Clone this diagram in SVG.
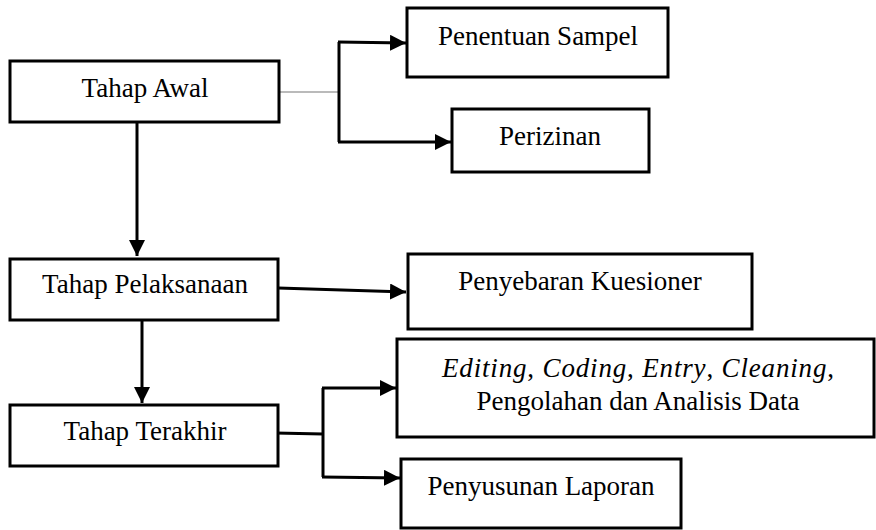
<svg xmlns="http://www.w3.org/2000/svg" width="876" height="530" viewBox="0 0 876 530">
<style>
.box{fill:#fff;stroke:#000;stroke-width:3}
.t{font-family:"Liberation Serif","Times New Roman",serif;font-size:27px;fill:#000;text-anchor:middle}
.c{fill:none;stroke:#000;stroke-width:3}
.thin{fill:none;stroke:#777;stroke-width:1.2}
</style>
<defs>
<marker id="ah" markerUnits="userSpaceOnUse" markerWidth="18" markerHeight="16" refX="16" refY="8" orient="auto">
<path d="M0,0 L16,8 L0,16 Z" fill="#000"/>
</marker>
</defs>
<rect width="876" height="530" fill="#fff"/>
<g id="connectors">
<path class="c" d="M137,122 V256" marker-end="url(#ah)"/>
<path class="thin" d="M279,92 H339"/>
<path class="c" d="M339,42 V142"/>
<path class="c" d="M338,42 L406,43" marker-end="url(#ah)"/>
<path class="c" d="M338,142 L451,142" marker-end="url(#ah)"/>
<path class="c" d="M278,288 L406,292" marker-end="url(#ah)"/>
<path class="c" d="M142,320 V403" marker-end="url(#ah)"/>
<path class="c" d="M275,433 L323,434"/>
<path class="c" d="M323,388 V477"/>
<path class="c" d="M322,388 L396,388" marker-end="url(#ah)"/>
<path class="c" d="M322,477 L400,478" marker-end="url(#ah)"/>
</g>
<g id="tahap-awal">
<rect class="box" x="10" y="61" width="269" height="61"/>
<text class="t" x="145" y="97">Tahap Awal</text>
</g>
<g id="penentuan-sampel">
<rect class="box" x="407" y="8" width="261" height="69"/>
<text class="t" x="538" y="45">Penentuan Sampel</text>
</g>
<g id="perizinan">
<rect class="box" x="452" y="109" width="197" height="63"/>
<text class="t" x="550" y="145">Perizinan</text>
</g>
<g id="tahap-pelaksanaan">
<rect class="box" x="10" y="259" width="268" height="61"/>
<text class="t" x="145" y="293">Tahap Pelaksanaan</text>
</g>
<g id="tahap-terakhir">
<rect class="box" x="10" y="405" width="268" height="61"/>
<text class="t" x="145" y="440">Tahap Terakhir</text>
</g>
<g id="penyebaran-kuesioner">
<rect class="box" x="408" y="254" width="344" height="75"/>
<text class="t" x="580" y="290">Penyebaran Kuesioner</text>
</g>
<g id="pengolahan">
<rect class="box" x="397" y="339" width="477" height="98"/>
<text class="t" x="638" y="377" textLength="392" lengthAdjust="spacing"><tspan font-style="italic">Editing</tspan>, <tspan font-style="italic">Coding</tspan>, <tspan font-style="italic">Entry</tspan>, <tspan font-style="italic">Cleaning</tspan>,</text>
<text class="t" x="638" y="410">Pengolahan dan Analisis Data</text>
</g>
<g id="penyusunan-laporan">
<rect class="box" x="401" y="459" width="280" height="69"/>
<text class="t" x="541" y="495">Penyusunan Laporan</text>
</g>
</svg>
